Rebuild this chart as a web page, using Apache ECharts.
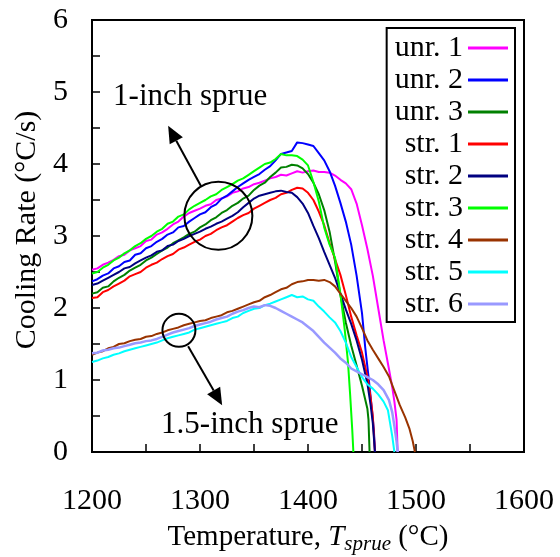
<!DOCTYPE html>
<html>
<head>
<meta charset="utf-8">
<script src="https://cdn.jsdelivr.net/npm/echarts@6/dist/echarts.min.js"></script>
<style>
  html, body { margin: 0; padding: 0; background: #fff; }
  #chart { width: 560px; height: 557px; }
</style>
</head>
<body>
<div id="chart"></div>
<script>
// 读图得到的数据 [温度 °C, 冷却速率 °C/s]
const unr1 = [[1200,2.53],[1205,2.55],[1210,2.6],[1215,2.63],[1220,2.67],[1225,2.72],[1230,2.74],[1235,2.8],[1240,2.83],[1245,2.86],[1250,2.93],[1255,2.95],[1260,3.02],[1265,3.05],[1270,3.1],[1275,3.16],[1280,3.2],[1285,3.27],[1290,3.32],[1295,3.35],[1300,3.38],[1305,3.42],[1310,3.44],[1315,3.5],[1320,3.52],[1325,3.55],[1330,3.6],[1335,3.62],[1340,3.66],[1345,3.68],[1350,3.72],[1355,3.74],[1360,3.77],[1365,3.8],[1370,3.82],[1375,3.85],[1380,3.84],[1385,3.87],[1390,3.9],[1395,3.88],[1400,3.9],[1405,3.91],[1410,3.89],[1415,3.89],[1420,3.88],[1425,3.84],[1430,3.78],[1435,3.73],[1440,3.65],[1445,3.45],[1450,3.15],[1455,2.82],[1460,2.45],[1465,2.0],[1470,1.55],[1475,1.15],[1478,0.9],[1480,0.7],[1482,0.45],[1483,0]]
const unr2 = [[1200,2.37],[1205,2.4],[1210,2.45],[1215,2.48],[1220,2.55],[1225,2.58],[1230,2.64],[1235,2.66],[1240,2.74],[1245,2.76],[1250,2.83],[1255,2.86],[1260,2.92],[1265,2.96],[1270,3.02],[1275,3.05],[1280,3.12],[1285,3.14],[1290,3.2],[1295,3.25],[1300,3.3],[1305,3.33],[1310,3.4],[1315,3.44],[1320,3.52],[1325,3.56],[1330,3.62],[1335,3.68],[1340,3.73],[1345,3.78],[1350,3.82],[1355,3.86],[1360,3.92],[1365,3.97],[1370,4.05],[1375,4.14],[1380,4.16],[1385,4.18],[1390,4.3],[1395,4.29],[1400,4.27],[1405,4.25],[1410,4.15],[1415,4.05],[1420,3.9],[1425,3.7],[1430,3.46],[1435,3.2],[1440,2.88],[1445,2.45],[1450,1.93],[1453,1.45],[1456,1.05],[1459,0.62],[1461,0.3],[1462,0]]
const unr3 = [[1200,2.2],[1205,2.22],[1210,2.28],[1215,2.3],[1220,2.37],[1225,2.42],[1230,2.46],[1235,2.52],[1240,2.56],[1245,2.6],[1250,2.66],[1255,2.7],[1260,2.75],[1265,2.8],[1270,2.84],[1275,2.9],[1280,2.94],[1285,2.98],[1290,3.03],[1295,3.06],[1300,3.12],[1305,3.16],[1310,3.22],[1315,3.26],[1320,3.32],[1325,3.36],[1330,3.42],[1335,3.46],[1340,3.52],[1345,3.56],[1350,3.64],[1355,3.7],[1360,3.74],[1365,3.82],[1370,3.88],[1375,3.95],[1380,3.96],[1385,3.99],[1390,3.98],[1395,3.94],[1400,3.86],[1405,3.74],[1410,3.58],[1415,3.36],[1420,3.06],[1425,2.65],[1430,2.18],[1435,1.8],[1440,1.48],[1445,1.2],[1450,0.92],[1455,0.6],[1456,0.45],[1457,0]]
const str1 = [[1200,2.14],[1205,2.15],[1210,2.22],[1215,2.25],[1220,2.3],[1225,2.34],[1230,2.38],[1235,2.44],[1240,2.47],[1245,2.5],[1250,2.56],[1255,2.6],[1260,2.63],[1265,2.68],[1270,2.72],[1275,2.75],[1280,2.81],[1285,2.84],[1290,2.88],[1295,2.92],[1300,2.95],[1305,3.0],[1310,3.03],[1315,3.08],[1320,3.12],[1325,3.15],[1330,3.2],[1335,3.25],[1340,3.29],[1345,3.32],[1350,3.38],[1355,3.42],[1360,3.46],[1365,3.5],[1370,3.53],[1375,3.58],[1380,3.6],[1385,3.64],[1390,3.67],[1395,3.66],[1400,3.6],[1405,3.5],[1410,3.34],[1415,3.15],[1420,2.9],[1425,2.68],[1430,2.46],[1435,2.18],[1440,1.88],[1445,1.62],[1450,1.38],[1455,1.05],[1458,0.75],[1460,0.5],[1462,0]]
const str2 = [[1200,2.32],[1205,2.34],[1210,2.38],[1215,2.42],[1220,2.46],[1225,2.5],[1230,2.55],[1235,2.57],[1240,2.62],[1245,2.66],[1250,2.7],[1255,2.73],[1260,2.78],[1265,2.8],[1270,2.86],[1275,2.88],[1280,2.93],[1285,2.96],[1290,3.0],[1295,3.03],[1300,3.06],[1305,3.1],[1310,3.13],[1315,3.17],[1320,3.2],[1325,3.24],[1330,3.28],[1335,3.33],[1340,3.4],[1345,3.46],[1350,3.52],[1355,3.56],[1360,3.58],[1365,3.6],[1370,3.62],[1375,3.63],[1380,3.61],[1385,3.6],[1390,3.54],[1395,3.45],[1400,3.32],[1405,3.14],[1410,2.97],[1415,2.78],[1420,2.6],[1425,2.42],[1430,2.2],[1435,1.98],[1440,1.78],[1445,1.55],[1450,1.28],[1455,0.95],[1458,0.65],[1460,0.4],[1462,0]]
const str3 = [[1200,2.48],[1205,2.5],[1210,2.56],[1215,2.6],[1220,2.66],[1225,2.7],[1230,2.76],[1235,2.8],[1240,2.86],[1245,2.9],[1250,2.96],[1255,3.0],[1260,3.06],[1265,3.1],[1270,3.17],[1275,3.2],[1280,3.27],[1285,3.3],[1290,3.37],[1295,3.42],[1300,3.46],[1305,3.5],[1310,3.55],[1315,3.58],[1320,3.64],[1325,3.68],[1330,3.72],[1335,3.77],[1340,3.8],[1345,3.85],[1350,3.9],[1355,3.95],[1360,4.0],[1365,4.02],[1370,4.07],[1375,4.14],[1380,4.12],[1385,4.12],[1390,4.11],[1395,4.06],[1400,3.98],[1405,3.75],[1410,3.48],[1415,3.12],[1420,2.88],[1425,2.7],[1430,2.2],[1434,1.7],[1437,1.25],[1439,0.8],[1441,0.3],[1442,0]]
const str4 = [[1200,1.35],[1205,1.38],[1210,1.4],[1215,1.44],[1220,1.46],[1225,1.5],[1230,1.51],[1235,1.54],[1240,1.56],[1245,1.57],[1250,1.6],[1255,1.61],[1260,1.64],[1265,1.66],[1270,1.69],[1275,1.71],[1280,1.73],[1285,1.76],[1290,1.78],[1295,1.8],[1300,1.82],[1305,1.83],[1310,1.86],[1315,1.88],[1320,1.9],[1325,1.94],[1330,1.96],[1335,1.99],[1340,2.02],[1345,2.05],[1350,2.08],[1355,2.1],[1360,2.15],[1365,2.18],[1370,2.22],[1375,2.26],[1380,2.28],[1385,2.33],[1390,2.36],[1395,2.37],[1400,2.39],[1405,2.39],[1410,2.38],[1415,2.39],[1420,2.36],[1425,2.3],[1430,2.2],[1435,2.1],[1440,2.0],[1445,1.88],[1450,1.72],[1455,1.55],[1460,1.42],[1465,1.3],[1470,1.18],[1475,1.05],[1480,0.85],[1485,0.65],[1490,0.48],[1494,0.32],[1497,0.15],[1499,0]]
const str5 = [[1200,1.25],[1205,1.27],[1210,1.3],[1215,1.32],[1220,1.35],[1225,1.37],[1230,1.4],[1235,1.42],[1240,1.44],[1245,1.46],[1250,1.48],[1255,1.5],[1260,1.52],[1265,1.55],[1270,1.58],[1275,1.6],[1280,1.62],[1285,1.64],[1290,1.66],[1295,1.7],[1300,1.72],[1305,1.74],[1310,1.76],[1315,1.78],[1320,1.8],[1325,1.82],[1330,1.86],[1335,1.88],[1340,1.93],[1345,1.96],[1350,1.99],[1355,2.0],[1360,2.04],[1365,2.06],[1370,2.09],[1375,2.12],[1380,2.15],[1385,2.18],[1390,2.15],[1395,2.16],[1400,2.12],[1405,2.1],[1410,2.02],[1415,1.95],[1420,1.87],[1425,1.8],[1430,1.68],[1435,1.52],[1440,1.32],[1445,1.18],[1450,1.04],[1455,0.94],[1460,0.88],[1465,0.8],[1470,0.7],[1474,0.58],[1476,0.4],[1478,0.22],[1480,0]]
const str6 = [[1200,1.37],[1205,1.38],[1210,1.41],[1215,1.42],[1220,1.44],[1225,1.45],[1230,1.47],[1235,1.49],[1240,1.51],[1245,1.52],[1250,1.54],[1255,1.55],[1260,1.57],[1265,1.6],[1270,1.63],[1275,1.66],[1280,1.68],[1285,1.7],[1290,1.72],[1295,1.75],[1300,1.77],[1305,1.79],[1310,1.81],[1315,1.84],[1320,1.86],[1325,1.88],[1330,1.92],[1335,1.95],[1340,1.97],[1345,2.0],[1350,2.02],[1355,2.01],[1360,2.04],[1365,2.03],[1370,2.0],[1375,1.96],[1380,1.92],[1385,1.88],[1390,1.84],[1395,1.8],[1400,1.74],[1405,1.68],[1410,1.6],[1415,1.52],[1420,1.45],[1425,1.38],[1430,1.3],[1435,1.24],[1440,1.16],[1445,1.12],[1450,1.08],[1455,1.04],[1460,1.0],[1465,0.94],[1470,0.86],[1475,0.72],[1478,0.55],[1480,0.36],[1482,0.15],[1483,0]]

const seriesNames = ['unr. 1', 'unr. 2', 'unr. 3', 'str. 1', 'str. 2', 'str. 3', 'str. 4', 'str. 5', 'str. 6']
const seriesData = [unr1, unr2, unr3, str1, str2, str3, str4, str5, str6]
const seriesColors = ['#ff00ff', '#0000ff', '#008000', '#ff0000', '#000080', '#00ff00', '#993300', '#00ffff', '#9999ff']

const FONT = '"Liberation Serif", "Times New Roman", serif'

const chart = echarts.init(document.getElementById('chart'))

const axisCommon = {
  axisLine: { lineStyle: { color: '#000', width: 2 } },
  axisTick: { inside: true, length: 8, lineStyle: { color: '#000', width: 1.5 } },
  minorTick: { show: true, splitNumber: 2, length: 8, lineStyle: { color: '#000', width: 1.5 } },
  splitLine: { show: false },
}

const option = {
  backgroundColor: '#fff',
  animation: false,
  grid: {
    left: 92, top: 20, right: 36, bottom: 105,
    show: true, borderColor: '#000', borderWidth: 2,
  },
  legend: {
    orient: 'vertical',
    right: 45, top: 28,
    align: 'right',
    icon: 'rect',
    itemWidth: 40, itemHeight: 3,
    itemGap: 2,
    padding: [5, 7, 3, 8],
    borderColor: '#000', borderWidth: 2,
    backgroundColor: '#fff',
    textStyle: { fontFamily: FONT, fontSize: 30, color: '#000', lineHeight: 30 },
    data: seriesNames,
  },
  xAxis: Object.assign({
    type: 'value', min: 1200, max: 1600, interval: 100,
    axisLabel: { fontFamily: FONT, fontSize: 30, color: '#000', margin: 34, formatter: v => String(v) },
  }, axisCommon),
  yAxis: Object.assign({
    type: 'value', min: 0, max: 6, interval: 1,
    axisLabel: { fontFamily: FONT, fontSize: 30, color: '#000', margin: 24 },
  }, axisCommon),
  series: seriesNames.map((name, i) => ({
    name: name,
    type: 'line',
    data: seriesData[i],
    symbol: 'none',
    color: seriesColors[i],
    lineStyle: { width: i === 8 ? 2.5 : 2, color: seriesColors[i] },
    z: 2,
  })),
}
chart.setOption(option)

// 注释: 圆圈, 箭头, 文字 (用数据坐标定位)
function px(pt) { return chart.convertToPixel({ gridIndex: 0 }, pt) }
function arrow(from, to) {
  const a = px(from), b = px(to)
  const dx = b[0] - a[0], dy = b[1] - a[1]
  const len = Math.sqrt(dx * dx + dy * dy)
  const ux = dx / len, uy = dy / len
  const hl = 17, hw = 7.5
  const bx = b[0] - ux * hl, by = b[1] - uy * hl
  return [
    { type: 'line', shape: { x1: a[0], y1: a[1], x2: bx, y2: by }, style: { stroke: '#000', lineWidth: 2 }, z: 10 },
    { type: 'polygon', shape: { points: [[b[0], b[1]], [bx - uy * hw, by + ux * hw], [bx + uy * hw, by - ux * hw]] }, style: { fill: '#000' }, z: 10 },
  ]
}
const bigC = px([1317, 3.28]), smallC = px([1280.5, 1.69])
const t1 = px([1219.5, 4.93]), t2 = px([1264, 0.38])
chart.setOption({
  graphic: [
    { type: 'circle', shape: { cx: bigC[0], cy: bigC[1], r: 34 }, style: { fill: 'none', stroke: '#000', lineWidth: 2 }, z: 10 },
    { type: 'circle', shape: { cx: smallC[0], cy: smallC[1], r: 16.5 }, style: { fill: 'none', stroke: '#000', lineWidth: 2 }, z: 10 },
    ...arrow([1301, 3.69], [1270.5, 4.53]),
    ...arrow([1289, 1.47], [1320.5, 0.65]),
    { type: 'text', x: t1[0], y: t1[1], style: { text: '1-inch sprue', font: '31px ' + FONT, fill: '#000', textAlign: 'left', textVerticalAlign: 'middle' }, z: 10 },
    { type: 'text', x: t2[0], y: t2[1], style: { text: '1.5-inch sprue', font: '31px ' + FONT, fill: '#000', textAlign: 'left', textVerticalAlign: 'middle' }, z: 10 },
    { type: 'text', x: 27, y: 230, rotation: Math.PI / 2,
      style: { text: 'Cooling Rate (°C/s)', font: '30px ' + FONT, fill: '#000', textAlign: 'center', textVerticalAlign: 'middle' } },
    { type: 'text', x: 308, y: 537,
      style: {
        text: '{a|Temperature, }{i|T}{s|sprue}{a| (°C)}',
        textAlign: 'center', textVerticalAlign: 'middle',
        rich: {
          a: { fontFamily: FONT, fontSize: 29, lineHeight: 36, fill: '#000' },
          i: { fontFamily: FONT, fontSize: 29, fontStyle: 'italic', lineHeight: 36, fill: '#000' },
          s: { fontFamily: FONT, fontSize: 21, fontStyle: 'italic', lineHeight: 24, verticalAlign: 'bottom', fill: '#000' },
        },
      } },
  ],
})
</script>
</body>
</html>
